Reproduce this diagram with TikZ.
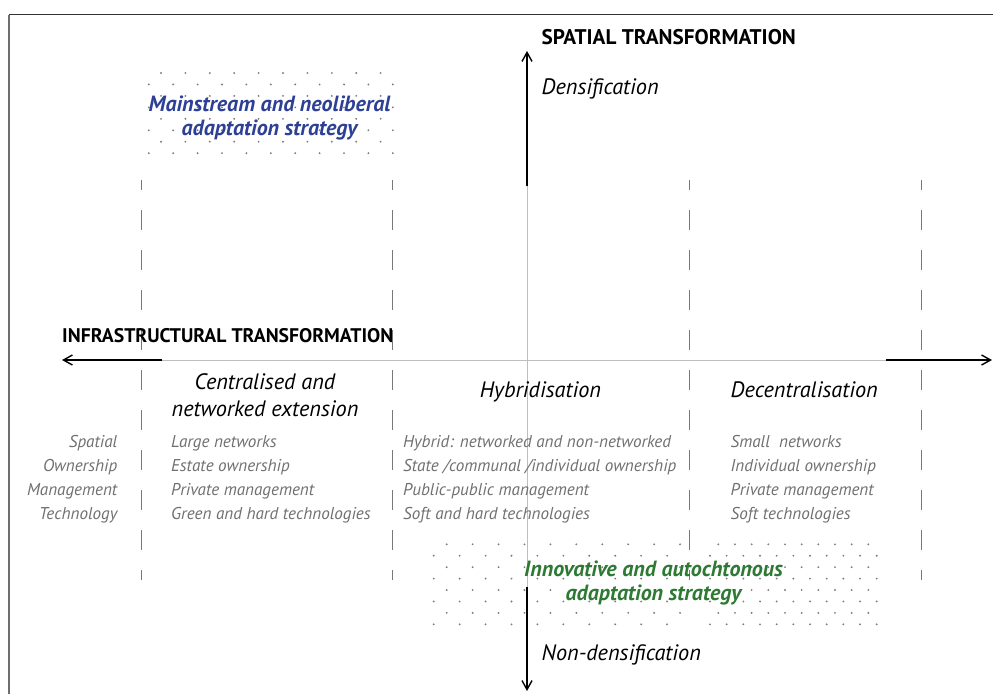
\documentclass[tikz,border=0pt]{standalone}
\usepackage{fontspec}
\setmainfont{PT Sans}
\usetikzlibrary{arrows.meta}

\definecolor{framedark}{RGB}{50,50,50}
\definecolor{framegray}{RGB}{110,110,110}
\definecolor{axisgray}{RGB}{190,190,190}
\definecolor{dashgray}{RGB}{120,120,120}
\definecolor{dotgray}{RGB}{125,125,125}
\definecolor{notegray}{RGB}{112,112,112}
\definecolor{stratblue}{RGB}{46,64,150}
\definecolor{stratgreen}{RGB}{46,122,52}

\tikzset{
  axisthick/.style={line width=1.8pt, black},
  axisthin/.style={line width=0.9pt, axisgray},
  tip/.style={arrows={-Straight Barb[length=9pt,width=10pt,line width=1.4pt]}},
  divider/.style={line width=1pt, dashgray, dash pattern=on 20pt off 20pt, dash phase=10pt},
  axislabel/.style={inner sep=0pt, font=\bfseries},
  poleLabel/.style={inner sep=0pt, font=\fontsize{22.3}{26}\selectfont\itshape},
  stagehead/.style={inner sep=0pt, align=center, font=\fontsize{22.3}{27.4}\selectfont\itshape},
  note/.style={inner sep=0pt, text=notegray, font=\fontsize{17.1}{24}\selectfont\itshape},
  strategy/.style={inner sep=0pt, align=center, font=\fontsize{22}{24}\selectfont\bfseries\itshape},
  dot/.style={fill=dotgray}
}

\begin{document}
\begin{tikzpicture}[x=1pt,y=-1pt]
\useasboundingbox (0,0) rectangle (993,694);

% frame
\coordinate (frTR) at (993,14.5);
\coordinate (frTL) at (8.5,14.5);
\coordinate (frBL) at (8.5,694);
\draw[line width=1.6pt, framedark] (frTR) -- (frTL);
\draw[line width=2pt, framegray] (frTL) -- (frBL);

% dotted backgrounds of the two strategies
\foreach \r in {0,...,7}{
  \pgfmathsetmacro\yy{73+11.45*\r}
  \ifodd\r
    \foreach \c in {0,...,10}{\fill[dot] ({148.8+24.4*\c},\yy) circle[radius=1.05pt];}
  \else
    \foreach \c in {0,...,9}{\fill[dot] ({161+24.4*\c},\yy) circle[radius=1.05pt];}
  \fi
}
\foreach \r in {0,...,7}{
  \pgfmathsetmacro\yy{544.3+11.43*\r}
  \ifodd\r
    \foreach \c in {0,...,9}{\fill[dot] ({433.7+25.93*\c},\yy) circle[radius=1.05pt];}
    \foreach \c in {0,...,10}{\fill[dot] ({710+16.67*\c},\yy) circle[radius=1.05pt];}
  \else
    \foreach \c in {0,...,9}{\fill[dot] ({446.7+25.93*\c},\yy) circle[radius=1.05pt];}
    \foreach \c in {0,...,9}{\fill[dot] ({718.3+16.67*\c},\yy) circle[radius=1.05pt];}
  \fi
}

% dashed dividers between the stages
\foreach \x/\n in {141/a,392/b,689/c,921/d}{
  \coordinate (div\n top) at (\x,180);
  \coordinate (div\n bot) at (\x,580);
  \draw[divider] (div\n top) -- (div\n bot);
}

% horizontal axis: infrastructural transformation
\coordinate (hL) at (62,360);
\coordinate (hLs) at (162,360);
\coordinate (hRs) at (886,360);
\coordinate (hR) at (992,360);
\draw[axisthin] (hLs) -- (hRs);
\draw[axisthick,tip] (hLs) -- (hL);
\draw[axisthick,tip] (hRs) -- (hR);

% vertical axis: spatial transformation
\coordinate (vT) at (527,51);
\coordinate (vTs) at (527,186);
\coordinate (vBs) at (527,587);
\coordinate (vB) at (527,691);
\draw[axisthin] (vTs) -- (vBs);
\draw[axisthick,tip] (vTs) -- (vT);
\draw[axisthick,tip] (vBs) -- (vB);

% axis titles and poles
\node[axislabel, font=\fontsize{21.2}{24}\selectfont\bfseries, anchor=base west] (spatial) at (541.5,44.3) {SPATIAL TRANSFORMATION};
\node[axislabel, font=\fontsize{19.7}{24}\selectfont\bfseries, anchor=base west] (infra) at (62,342.3) {INFRASTRUCTURAL TRANSFORMATION};
\node[poleLabel, anchor=base west] (dens) at (541.5,94.3) {Densification};
\node[poleLabel, anchor=base west] (nondens) at (541.5,660) {Non-densification};

% stage headings (multi-line nodes are anchored on their last baseline)
\node[stagehead, anchor=base] (central) at (265,416.7) {Centralised and\\networked extension};
\node[stagehead, anchor=base] (hybrid) at (540.5,397.7) {Hybridisation};
\node[stagehead, anchor=base west] (decent) at (730.5,397.7) {Decentralisation};

% row labels and stage characteristics
\foreach \t/\nm [count=\i from 0] in {Spatial/sp,Ownership/ow,Management/mg,Technology/te}{
  \node[note, anchor=base east] (row\nm) at (117.5,{447+24*\i}) {\t};
}
\foreach \t [count=\i from 0] in {Large networks,Estate ownership,Private management,Green and hard technologies}{
  \node[note, anchor=base west] (cen\i) at (171,{447+24*\i}) {\t};
}
\foreach \t [count=\i from 0] in {Hybrid: networked and non-networked,State /communal /individual ownership,Public-public management,Soft and hard technologies}{
  \node[note, anchor=base west] (hyb\i) at (403,{447+24*\i}) {\t};
}
\foreach \t [count=\i from 0] in {Small\ \ networks,Individual ownership,Private management,Soft technologies}{
  \node[note, anchor=base west] (dec\i) at (730.5,{447+24*\i}) {\t};
}

% strategies
\node[strategy, text=stratblue, anchor=base] (mainstream) at (269.5,135) {Mainstream and neoliberal\\adaptation strategy};
\node[strategy, text=stratgreen, anchor=base] (innovative) at (653.5,600) {Innovative and autochtonous\\adaptation strategy};
\end{tikzpicture}
\end{document}
